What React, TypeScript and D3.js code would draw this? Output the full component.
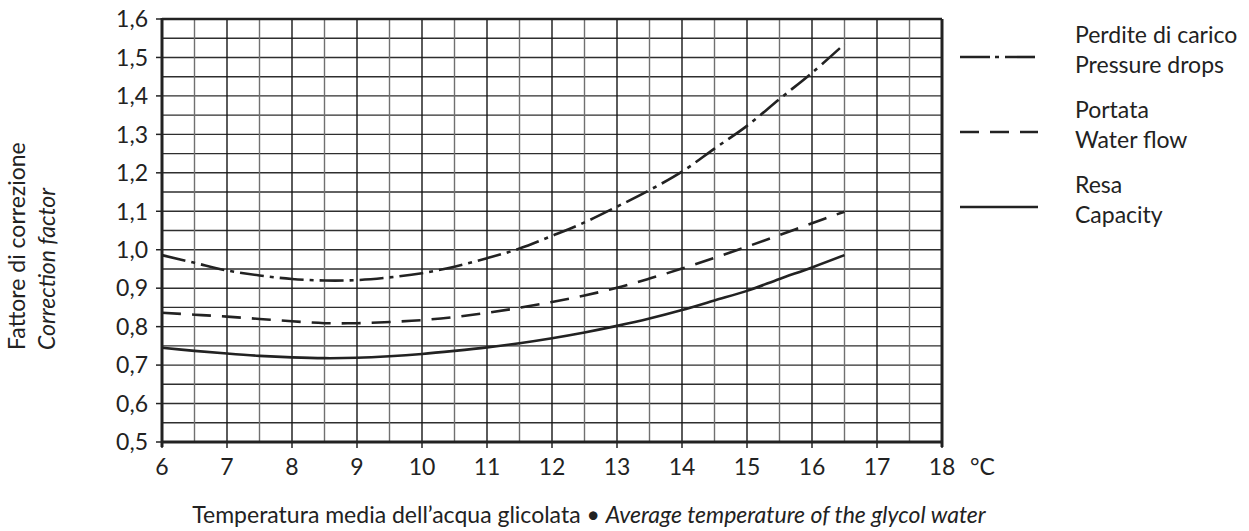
import React from 'react';
import * as d3 from 'd3';

// Temperature (°C) at which the curves were read
const temps = [6, 6.5, 7, 7.5, 8, 8.5, 9, 9.5, 10, 10.5, 11, 11.5, 12, 12.5, 13, 13.5, 14, 14.5, 15, 15.5, 16, 16.5];
const pressureDrops = [0.986, 0.966, 0.946, 0.933, 0.924, 0.92, 0.921, 0.928, 0.939, 0.956, 0.978, 1.003, 1.036, 1.071, 1.112, 1.155, 1.203, 1.263, 1.322, 1.392, 1.46, 1.535];
const waterFlow = [0.836, 0.831, 0.826, 0.82, 0.814, 0.809, 0.809, 0.812, 0.817, 0.825, 0.836, 0.849, 0.864, 0.881, 0.901, 0.925, 0.951, 0.979, 1.008, 1.038, 1.069, 1.099];
const capacity = [0.745, 0.737, 0.73, 0.724, 0.72, 0.718, 0.719, 0.723, 0.729, 0.737, 0.746, 0.757, 0.77, 0.785, 0.802, 0.821, 0.843, 0.868, 0.893, 0.924, 0.954, 0.986];

const xTicks = [6, 7, 8, 9, 10, 11, 12, 13, 14, 15, 16, 17, 18];
const yTicks = [0.5, 0.6, 0.7, 0.8, 0.9, 1.0, 1.1, 1.2, 1.3, 1.4, 1.5, 1.6];

const seriesLabels = [
  { it: 'Perdite di carico', en: 'Pressure drops', dash: '24,6,4,6' },
  { it: 'Portata', en: 'Water flow', dash: '19,11' },
  { it: 'Resa', en: 'Capacity', dash: null },
];

const W = 1249;
const H = 531;
const margin = { left: 162, right: 307, top: 19, bottom: 89 };
const font = 'Lato, "Open Sans", sans-serif';
const ink = '#222';
const fs = 23;

export default function App() {
  const x = d3.scaleLinear().domain([6, 18]).range([margin.left, W - margin.right]);
  const y = d3.scaleLinear().domain([0.5, 1.6]).range([H - margin.bottom, margin.top]);

  const halfX = d3.range(6, 18.01, 0.5);
  const halfY = d3.range(0.5, 1.601, 0.05);

  const line = d3.line<number>()
    .x((_, i) => x(temps[i]))
    .y(d => y(d))
    .curve(d3.curveCatmullRom);

  const series = [pressureDrops, waterFlow, capacity];
  const fmt = (v: number) => v.toFixed(1).replace('.', ',');

  return (
    <svg width={W} height={H} style={{ position: 'absolute', left: 0, top: 0, background: '#fff' }}
      fontFamily={font}>
      {/* grid */}
      {halfY.map(v => (
        <line key={'gy' + v} x1={x(6)} x2={x(18)} y1={y(v)} y2={y(v)} stroke="#2e2e2e" strokeWidth={1.4} />
      ))}
      {halfX.map(v => (
        <line key={'gx' + v} x1={x(v)} x2={x(v)} y1={y(0.5)} y2={y(1.6)}
          stroke={Number.isInteger(v) ? '#161616' : '#707070'} strokeWidth={1.4} />
      ))}

      {/* frame */}
      <line x1={x(6)} x2={x(18)} y1={y(1.6)} y2={y(1.6)} stroke={ink} strokeWidth={2.5} />
      <line x1={x(18)} x2={x(18)} y1={y(1.6)} y2={y(0.5) + 5} stroke={ink} strokeWidth={3} />
      <line x1={x(6)} x2={x(18)} y1={y(0.5)} y2={y(0.5)} stroke={ink} strokeWidth={3} />
      <line x1={x(6)} x2={x(6)} y1={y(1.6) - 1} y2={y(0.5) + 5} stroke={ink} strokeWidth={3} />

      {/* ticks */}
      {xTicks.map(t => (
        <g key={'xt' + t}>
          <line x1={x(t)} x2={x(t)} y1={y(0.5)} y2={y(0.5)+ 6} stroke={ink} strokeWidth={1.5} />
          <text x={x(t)} y={y(0.5) + 33} textAnchor="middle" fontSize={fs} fill={ink}>{t}</text>
        </g>
      ))}
      <text x={x(18) + 28} y={y(0.5) + 33} fontSize={fs} fill={ink}>°C</text>
      {yTicks.map(t => (
        <g key={'yt' + t}>
          <line x1={x(6) - 6} x2={x(6)} y1={y(t)} y2={y(t)} stroke={ink} strokeWidth={1.5} />
          <text x={x(6) - 14} y={y(t)} dy="0.36em" textAnchor="end" fontSize={fs} fill={ink}>{fmt(t)}</text>
        </g>
      ))}

      {/* curves */}
      {series.map((s, i) => (
        <path key={'s' + i} d={line(s) || ''} fill="none" stroke={ink} strokeWidth={2.6}
          strokeDasharray={seriesLabels[i].dash || undefined} />
      ))}

      {/* legend */}
      {seriesLabels.map((s, i) => {
        const ly = 57 + i * 75;
        return (
          <g key={'lg' + i}>
            <line x1={960} x2={1038} y1={ly} y2={ly} stroke={ink} strokeWidth={2.6}
              strokeDasharray={i === 0 ? '30,5,4,6' : s.dash || undefined} />
            <text x={1075} y={ly - 14} fontSize={fs} fill={ink}>{s.it}</text>
            <text x={1075} y={ly + 16} fontSize={fs} fill={ink}>{s.en}</text>
          </g>
        );
      })}

      {/* axis titles */}
      <text transform="translate(25,350) rotate(-90)" fontSize={fs} fill={ink}>Fattore di correzione</text>
      <text transform="translate(55,350) rotate(-90)" fontSize={fs} fill={ink} fontStyle="italic">Correction factor</text>
      <text x={589} y={523} textAnchor="middle" fontSize={fs} fill={ink}>
        Temperatura media dell’acqua glicolata • <tspan fontStyle="italic">Average temperature of the glycol water</tspan>
      </text>
    </svg>
  );
}
